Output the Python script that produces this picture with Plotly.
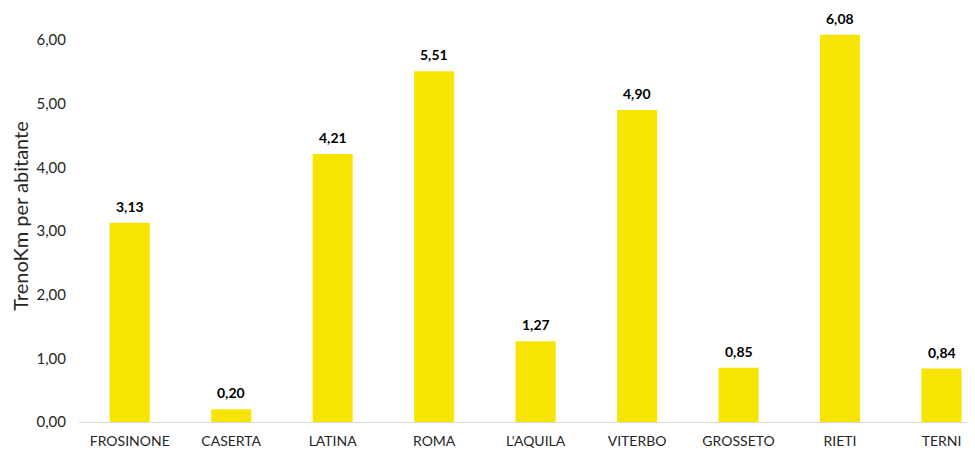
import plotly.graph_objects as go

categories = ["FROSINONE", "CASERTA", "LATINA", "ROMA", "L'AQUILA", "VITERBO", "GROSSETO", "RIETI", "TERNI"]
values = [3.13, 0.20, 4.21, 5.51, 1.27, 4.90, 0.85, 6.08, 0.84]
labels = [f"{v:.2f}".replace(".", ",") for v in values]
y_ticks = [0, 1, 2, 3, 4, 5, 6]
y_ticklabels = [f"{t:.2f}".replace(".", ",") for t in y_ticks]

fig = go.Figure()
fig.add_trace(go.Bar(
    x=categories, y=values, width=0.395,
    marker=dict(color="#F8E402", line=dict(width=0)),
    hoverinfo="skip",
))
for c, v, lab in zip(categories, values, labels):
    fig.add_annotation(x=c, y=v, text=f"<b>{lab}</b>", showarrow=False,
                       yanchor="bottom", yshift=6,
                       font=dict(size=14, color="#000000", family="Lato"))

fig.update_layout(
    width=967, height=444,
    margin=dict(l=71, r=0, t=2, b=30),
    paper_bgcolor="white", plot_bgcolor="white",
    font=dict(family="Lato", size=14, color="#404040"),
    showlegend=False,
    xaxis=dict(range=[-0.5, 8.33], showgrid=False, showline=True,
               linecolor="#D9D9D9", linewidth=1, ticks="",
               ticklabelstandoff=6,
               tickfont=dict(size=14, color="#262626")),
    yaxis=dict(range=[0, 6.47], showgrid=False, zeroline=False, showline=False,
               tickvals=y_ticks, ticktext=y_ticklabels, ticks="",
               ticklabelstandoff=12,
               tickfont=dict(size=15, color="#262626"),
               title=dict(text="TrenoKm per abitante", standoff=6,
                          font=dict(size=20, color="#262626"))),
)
fig.write_html("out.html")
